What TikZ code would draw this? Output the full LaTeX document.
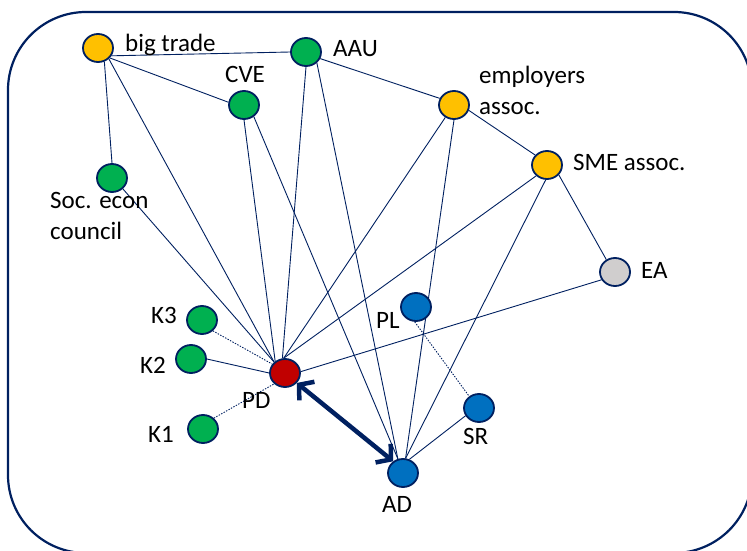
\documentclass[tikz,border=0pt]{standalone}
\usepackage{fontspec}
\setmainfont{Carlito}
\usetikzlibrary{arrows.meta,shapes.geometric}
\definecolor{navy}{HTML}{002060}
\definecolor{nodeorange}{HTML}{FFC000}
\definecolor{nodegreen}{HTML}{00B050}
\definecolor{nodered}{HTML}{C00000}
\definecolor{nodeblue}{HTML}{0070C0}
\definecolor{nodegrey}{HTML}{D0CECE}
\pgfdeclarelayer{bg}
\pgfsetlayers{bg,main}
\tikzset{
  actor/.style={ellipse, draw=navy, line width=1.8pt, minimum width=30pt,
                minimum height=28pt, inner sep=0pt},
  tie/.style={draw=navy, line width=0.9pt},
  weaktie/.style={draw=navy, line width=0.9pt, dash pattern=on 1.4pt off 1.4pt},
  lbl/.style={anchor=base west, inner sep=0pt, font=\fontsize{25}{30}\selectfont, text=black},
  bond/.style={draw=navy, line width=4.5pt,
               {Straight Barb[length=10pt,width=24pt]}-{Straight Barb[length=10pt,width=24pt]}}
}
\begin{document}
\begin{tikzpicture}[x=1pt,y=-1pt]
\useasboundingbox (0,0) rectangle (747,551);
\clip (0,0) rectangle (747,551);

% actors
\node[actor, fill=nodeorange] (big) at (98,48)  {};
\node[actor, fill=nodegreen]  (aau) at (306,52) {};
\node[actor, fill=nodegreen]  (cve) at (244,105) {};
\node[actor, fill=nodeorange] (emp) at (454,105) {};
\node[actor, fill=nodeorange] (sme) at (547,165) {};
\node[actor, fill=nodegreen]  (soc) at (112,178) {};
\node[actor, fill=nodegrey]   (ea)  at (615,272) {};
\node[actor, fill=nodeblue]   (pl)  at (416,307) {};
\node[actor, fill=nodegreen]  (k3)  at (202,320) {};
\node[actor, fill=nodegreen]  (k2)  at (191,359) {};
\node[actor, fill=nodegreen]  (k1)  at (203,429) {};
\node[actor, fill=nodered]    (pd)  at (285,373) {};
\node[actor, fill=nodeblue]   (sr)  at (479,408) {};
\node[actor, fill=nodeblue]   (ad)  at (403,473) {};

% labels
\node[lbl] (tbig) at (125,52) {big trade};
\node[lbl] (taau) at (333,57) {AAU};
\node[lbl] (tcve) at (225,83) {CVE};
\node[lbl] (temp1) at (479,84) {employers};
\node[lbl] (temp2) at (479,114) {assoc.};
\node[lbl] (tsme) at (573,170) {SME assoc.};
\node[lbl] (tea)  at (641,278) {EA};
\node[lbl] (tsoc1) at (50,208) {Soc. econ};
\node[lbl] (tsoc2) at (50,239) {council};
\node[lbl] (tk3) at (151,323) {K3};
\node[lbl] (tk2) at (140,373) {K2};
\node[lbl] (tk1) at (148,442) {K1};
\node[lbl] (tpd) at (242,408) {PD};
\node[lbl] (tpl) at (376,328) {PL};
\node[lbl] (tsr) at (463,444) {SR};
\node[lbl] (tad) at (382,512) {AD};

\begin{pgfonlayer}{bg}
  % frame
  \draw[navy, line width=2.2pt, rounded corners=78pt] (8,12) rectangle (752,553);

  % ties
  \draw[tie] (big.-30) -- (aau.west);
  \draw[tie] (big.-40) -- (cve.170);
  \draw[tie] (big.-65) -- (soc.north);
  \draw[tie] (big.-45) -- (pd.135);
  \draw[tie] (soc.-45) -- (pd.135);
  \draw[tie] (cve.-90) -- (pd.130);
  \draw[tie] (cve.-50) -- (ad.110);
  \draw[tie] (aau.-90) -- (pd.100);
  \draw[tie] (aau.-45) -- (ad.110);
  \draw[tie] (aau.-25) -- (emp.155);
  \draw[tie] (emp.-20) -- (sme.140);
  \draw[tie] (emp.-125) -- (pd.95);
  \draw[tie] (emp.-90) -- (ad.80);
  \draw[tie] (sme.-135) -- (pd.95);
  \draw[tie] (sme.-95) -- (ad.80);
  \draw[tie] (sme.-40) -- (ea.125);
  \draw[tie] (ea.-150) -- (pd.5);
  \draw[tie] (k2.east) -- (pd.west);
  \draw[tie] (sr.-150) -- (ad.65);
  \draw[weaktie] (k3.-45) -- (pd.145);
  \draw[weaktie] (k1.45) -- (pd.-135);
  \draw[weaktie] (pl.-95) -- (sr.130);
\end{pgfonlayer}

% main relation
\draw[bond] (pd.-40) -- (ad.130);
\end{tikzpicture}
\end{document}
